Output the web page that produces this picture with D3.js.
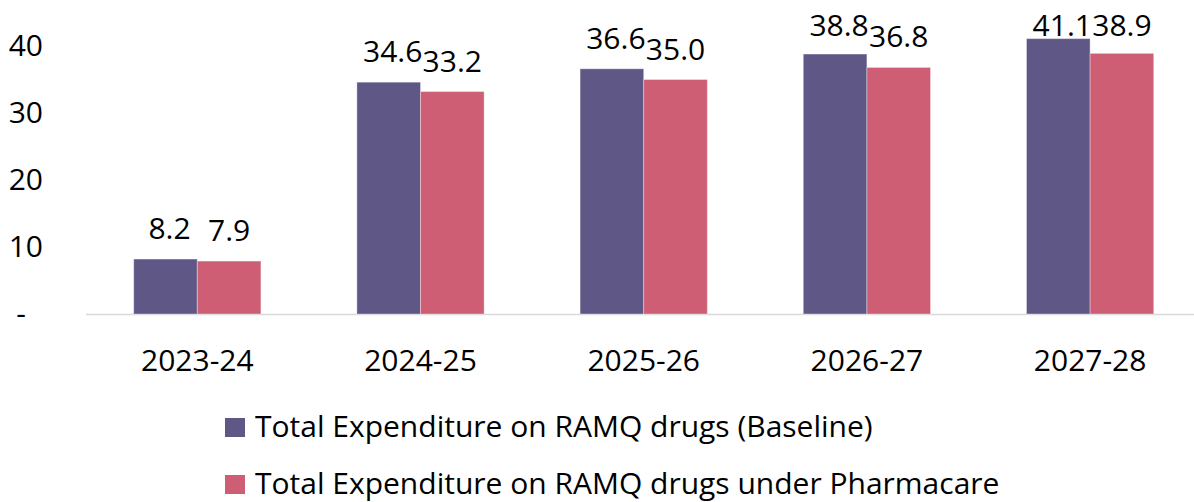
<!DOCTYPE html>
<html><head><meta charset="utf-8">
<script src="https://cdn.jsdelivr.net/npm/d3@7"></script>
<style>
html,body{margin:0;padding:0;background:#fff;}
svg{display:block;font-family:"Open Sans",sans-serif;}
</style></head>
<body><svg id="c" width="1194" height="502"></svg>
<script>
const categories = ["2023-24","2024-25","2025-26","2026-27","2027-28"];
const seriesNames = ["Total Expenditure on RAMQ drugs (Baseline)","Total Expenditure on RAMQ drugs under Pharmacare"];
const baseline = [8.2, 34.6, 36.6, 38.8, 41.1];
const pharmacare = [7.9, 33.2, 35.0, 36.8, 38.9];
const yTicks = [0, 10, 20, 30, 40];
const colors = ["#5f5887", "#cd5e74"];

const svg = d3.select("#c");
const FS = 30;
const x0 = d3.scaleBand().domain(categories).range([85.7, 1201.7]).paddingInner(0.43).paddingOuter(0.215);
const x1 = d3.scaleBand().domain([0,1]).range([0, x0.bandwidth()]);
const y = d3.scaleLinear().domain([0, 40]).range([314, 46]);

// y axis labels
const yAx = svg.append("g").attr("transform","translate(43,0)")
  .call(d3.axisLeft(y).tickValues(yTicks).tickSize(0).tickPadding(0).tickFormat(d => d === 0 ? "-" : d));
yAx.select(".domain").remove();
yAx.selectAll("text").attr("font-size", FS).attr("font-family","Open Sans").attr("fill","#000")
  .attr("dx", d => d === 0 ? -17 : 0);

// baseline
svg.append("line").attr("x1", 86).attr("x2", 1194).attr("y1", y(0)+0.5).attr("y2", y(0)+0.5)
  .attr("stroke","#d9d9d9").attr("stroke-width",1.5);

const data = categories.map((c,i) => ({c, vals:[baseline[i], pharmacare[i]]}));
const groups = svg.append("g").selectAll("g").data(data).join("g")
  .attr("transform", d => `translate(${x0(d.c)},0)`);
groups.selectAll("rect").data(d => d.vals.map((v,k)=>({v,k}))).join("rect")
  .attr("x", d => x1(d.k)).attr("width", x1.bandwidth())
  .attr("y", d => y(d.v)).attr("height", d => y(0) - y(d.v))
  .attr("fill", d => colors[d.k]).attr("stroke","#fff").attr("stroke-opacity",0.35).attr("stroke-width",1);
groups.selectAll("text").data(d => d.vals.map((v,k)=>({v,k}))).join("text")
  .attr("x", d => x1(d.k) + x1.bandwidth()/2 + (d.k===0?4:0))
  .attr("y", d => Math.max(y(d.v) - 20, 36))
  .attr("text-anchor","middle").attr("font-size", FS).attr("fill","#000")
  .text(d => d.v.toFixed(1));

// x axis labels
const xAx = svg.append("g").attr("transform", `translate(0,${y(0)})`)
  .call(d3.axisBottom(x0).tickSize(0).tickPadding(0));
xAx.select(".domain").remove();
xAx.selectAll("text").attr("font-size", FS).attr("font-family","Open Sans").attr("fill","#000")
  .attr("dy", null).attr("y", 57);

// legend
const leg = svg.append("g").selectAll("g").data(seriesNames).join("g")
  .attr("transform", (d,i) => `translate(225,${418 + i*57})`);
leg.append("rect").attr("width",20).attr("height",19).attr("fill",(d,i)=>colors[i]);
leg.append("text").attr("x",30).attr("y",19).attr("font-size",FS).attr("fill","#000").text(d=>d);
</script></body></html>
